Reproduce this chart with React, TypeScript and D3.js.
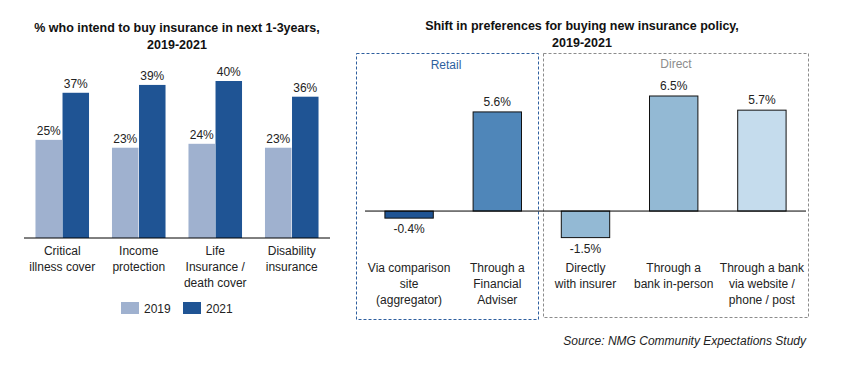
import * as d3 from 'd3'

// left chart: intention to buy, %
const products = ['Critical illness cover', 'Income protection', 'Life Insurance / death cover', 'Disability insurance']
const productLabels = [
	['Critical', 'illness cover'],
	['Income', 'protection'],
	['Life', 'Insurance /', 'death cover'],
	['Disability', 'insurance'],
]
const years = ['2019', '2021']
const values2019 = [25, 23, 24, 23]
const values2021 = [37, 39, 40, 36]

// right chart: shift in preferences, percentage points
const channels = ['Via comparison site', 'Through a Financial Adviser', 'Directly with insurer', 'Through a bank in-person', 'Through a bank via website']
const channelLabels = [
	['Via comparison', 'site', '(aggregator)'],
	['Through a', 'Financial', 'Adviser'],
	['Directly', 'with insurer'],
	['Through a', 'bank in-person'],
	['Through a bank', 'via website /', 'phone / post'],
]
const shifts = [-0.4, 5.6, -1.5, 6.5, 5.7]
const groups = ['Retail', 'Direct']

const FONT = '"Liberation Sans", Arial, sans-serif'
const yearColors = ['#9fb1cf', '#1f5494']
const channelColors = ['#1f5494', '#4f86b9', '#93b9d4', '#93b9d4', '#c5dced']

export default function App() {
	const x0 = d3.scaleBand().domain(products).range([24, 330]).paddingInner(0.3).paddingOuter(0.15)
	const x1 = d3.scaleBand().domain(years).range([0, x0.bandwidth()]).paddingInner(0.02)
	const yL = d3.scaleLinear().domain([0, 40]).range([238, 81])

	const xR = d3.scaleBand().domain(channels).range([365, 806]).paddingInner(0.44).paddingOuter(0.22)
	const yR = d3.scaleLinear().domain([-1.5, 6.5]).range([237.6, 96])

	const series = [values2019, values2021]

	return (
		<svg width={842} height={372} style={{ position: 'absolute', left: 0, top: 0, fontFamily: FONT }}>
			<rect width={842} height={372} fill="#fff" />

			{/* left chart */}
			<text x={177} y={32} textAnchor="middle" fontSize={12.5} fontWeight="bold" fill="#111">
				% who intend to buy insurance in next 1-3years,
			</text>
			<text x={177} y={49} textAnchor="middle" fontSize={12.5} fontWeight="bold" fill="#111">
				2019-2021
			</text>
			{products.map((p, i) => (
				<g key={p} transform={`translate(${x0(p)},0)`}>
					{years.map((yr, j) => {
						const v = series[j][i]
						const bx = x1(yr)!
						return (
							<g key={yr}>
								<rect x={bx} y={yL(v)} width={x1.bandwidth()} height={yL(0) - yL(v)} fill={yearColors[j]} />
								<text x={bx + x1.bandwidth() / 2} y={yL(v) - 5} textAnchor="middle" fontSize={12} fill="#222">
									{v}%
								</text>
							</g>
						)
					})}
				</g>
			))}
			<line x1={24} x2={330} y1={yL(0)} y2={yL(0)} stroke="#000" strokeWidth={1} />
			{productLabels.map((lines, i) =>
				lines.map((l, k) => (
					<text key={i + '-' + k} x={x0(products[i])! + x0.bandwidth() / 2} y={255 + k * 16} textAnchor="middle" fontSize={12} fill="#222">
						{l}
					</text>
				))
			)}
			{years.map((yr, j) => (
				<g key={yr} transform={`translate(${121 + j * 62},302)`}>
					<rect width={18} height={12} fill={yearColors[j]} />
					<text x={23} y={10.5} fontSize={12} fill="#222">{yr}</text>
				</g>
			))}

			{/* right chart */}
			<text x={582} y={30} textAnchor="middle" fontSize={12.5} fontWeight="bold" fill="#111">
				Shift in preferences for buying new insurance policy,
			</text>
			<text x={582} y={47} textAnchor="middle" fontSize={12.5} fontWeight="bold" fill="#111">
				2019-2021
			</text>
			<rect x={356.5} y={53.5} width={182} height={266} fill="none" stroke="#2e5f9e" strokeDasharray="3 2" />
			<rect x={543.5} y={53.5} width={265} height={264} fill="none" stroke="#8c8c8c" strokeDasharray="3 2" />
			<text x={446} y={69} textAnchor="middle" fontSize={12} fill="#2e5f9e">{groups[0]}</text>
			<text x={676} y={68} textAnchor="middle" fontSize={12} fill="#8c8c8c">{groups[1]}</text>
			{channels.map((c, i) => {
				const v = shifts[i]
				const top = Math.min(yR(v), yR(0))
				const h = Math.abs(yR(v) - yR(0))
				const cx = xR(c)! + xR.bandwidth() / 2
				return (
					<g key={c}>
						<rect x={xR(c)! + 0.5} y={top} width={xR.bandwidth() - 1} height={h} fill={channelColors[i]} stroke="#111" strokeWidth={1} />
						<text x={cx} y={v >= 0 ? yR(v) - 6 : yR(v) + 15} textAnchor="middle" fontSize={12} fill="#222">
							{v.toFixed(1)}%
						</text>
					</g>
				)
			})}
			<line x1={365} x2={806} y1={yR(0)} y2={yR(0)} stroke="#000" strokeWidth={1} />
			{channelLabels.map((lines, i) =>
				lines.map((l, k) => (
					<text key={i + '-' + k} x={xR(channels[i])! + xR.bandwidth() / 2} y={272 + k * 16} textAnchor="middle" fontSize={12} fill="#222">
						{l}
					</text>
				))
			)}
			<text x={806} y={345} textAnchor="end" fontSize={12} fontStyle="italic" fill="#222">
				Source: NMG Community Expectations Study
			</text>
		</svg>
	)
}
